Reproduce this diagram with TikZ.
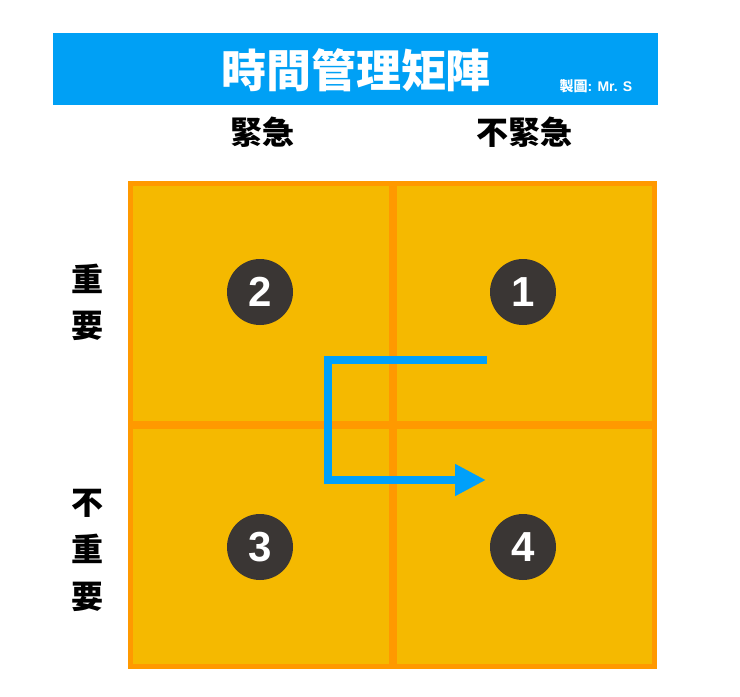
\documentclass[tikz,border=0pt]{standalone}
\usepackage{fontspec}
\setmainfont{Liberation Sans}
\newfontfamily\cjk{Noto Sans CJK TC}
\usetikzlibrary{arrows.meta}
\definecolor{bannerblue}{RGB}{0,160,245}
\definecolor{arrowblue}{RGB}{0,160,250}
\definecolor{borderorange}{RGB}{255,153,0}
\definecolor{cellfill}{RGB}{245,185,0}
\definecolor{discdark}{RGB}{58,54,52}
\tikzset{
  disc/.style={circle,fill=discdark,minimum size=66pt,inner sep=0pt,text=white,font=\fontsize{42}{42}\selectfont\bfseries},
  header/.style={font=\cjk\fontsize{32}{32}\selectfont\bfseries,inner sep=0pt},
  rowlabel/.style={font=\cjk\fontsize{32}{32}\selectfont\bfseries,inner sep=0pt},
  cell/.style={fill=cellfill,minimum width=0pt,inner sep=0pt},
  flow/.style={draw=arrowblue,line width=8pt,miter limit=10,-{Triangle[length=31pt,width=30pt]}}
}
\begin{document}
\begin{tikzpicture}[x=1pt,y=1pt]
\useasboundingbox[fill=white] (0,0) rectangle (740,-697);
% banner
\node[fill=bannerblue,minimum width=605pt,minimum height=72pt,inner sep=0pt,anchor=north west] (banner) at (53,-33) {};
\node[text=white,font=\cjk\fontsize{45}{45}\selectfont\bfseries,inner sep=0pt] (title) at (356,-70) {時間管理矩陣};
\node[text=white,inner sep=0pt,font=\fontsize{14}{14}\selectfont\bfseries] (credit) at (596,-86) {{\cjk 製圖}: Mr. S};
% headers
\node[header] (h1) at (262,-132) {緊急};
\node[header] (h2) at (524,-132) {不緊急};
% row labels
\node[rowlabel] (r1a) at (87,-279) {重};
\node[rowlabel] (r1b) at (87,-326) {要};
\node[rowlabel] (r2a) at (87,-503) {不};
\node[rowlabel] (r2b) at (87,-549) {重};
\node[rowlabel] (r2c) at (87,-597) {要};
% grid
\fill[cellfill] (128,-181) rectangle (657,-669);
\draw[borderorange,line width=5pt] (130.5,-183.5) rectangle (654.5,-666.5);
\draw[borderorange,line width=8pt] (392.5,-181) -- (392.5,-669);
\draw[borderorange,line width=8pt] (128,-425) -- (657,-425);
% discs
\node[disc] (n2) at (260,-292) {2};
\node[disc] (n1) at (523,-292) {1};
\node[disc] (n3) at (260,-547) {3};
\node[disc] (n4) at (523,-547) {4};
% arrow
\coordinate (a0) at (487,-360);
\coordinate (a1) at (328,-360);
\coordinate (a2) at (328,-480);
\coordinate (a3) at (486,-480);
\draw[flow] (a0) -- (a1) -- (a2) -- (a3);
\end{tikzpicture}
\end{document}
